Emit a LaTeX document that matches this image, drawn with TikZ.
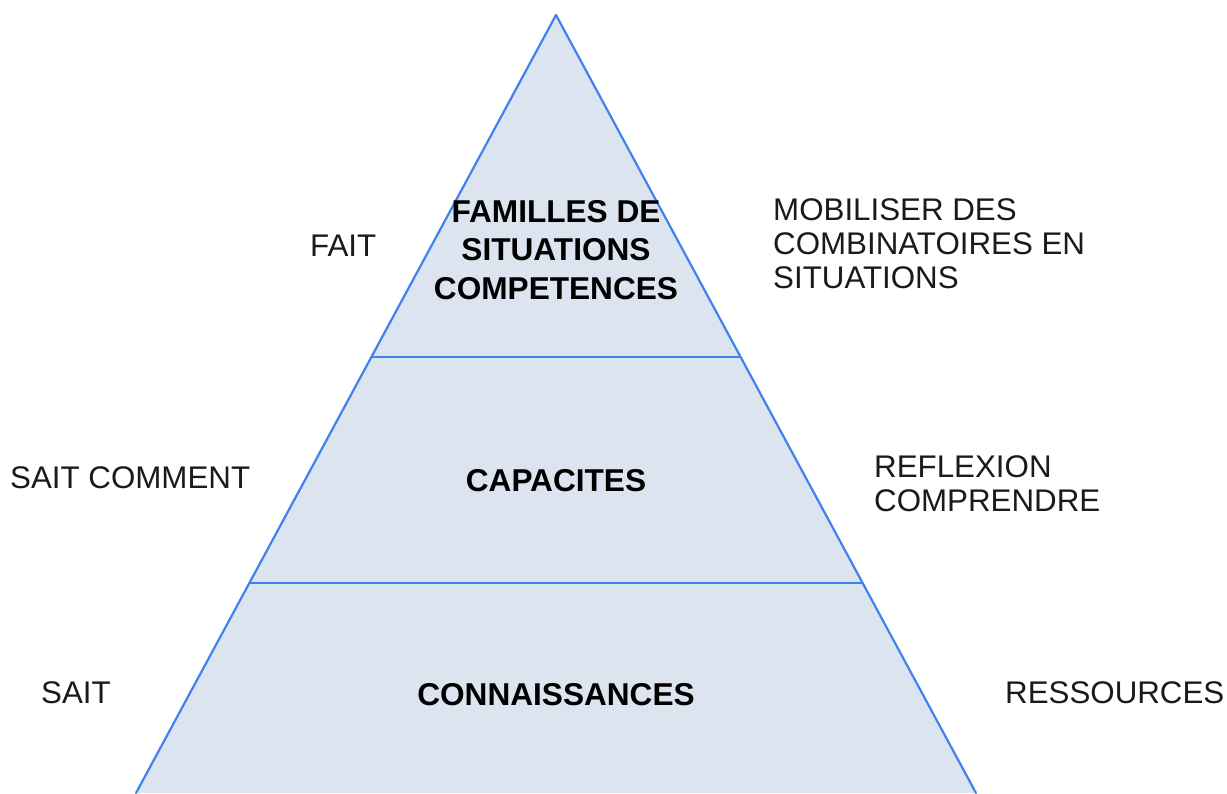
\documentclass[tikz,border=0pt]{standalone}
\usepackage{fontspec}
\setmainfont{Liberation Sans}
\definecolor{pyrfill}{HTML}{DCE4F0}
\definecolor{pyrline}{HTML}{3F82F0}
\definecolor{txt}{HTML}{1A1A1A}
\begin{document}
\begin{tikzpicture}[x=1pt,y=-1pt,
  edge/.style={draw=pyrline,line width=2.2pt,line cap=round,line join=round},
  side/.style={inner sep=0pt,text=txt,font=\fontsize{31.3}{34}\selectfont,align=left},
  level/.style={inner sep=0pt,text=black,font=\bfseries\fontsize{31.6}{38.5}\selectfont,align=center}]
\useasboundingbox (0,0) rectangle (1227,793);
\fill[white] (0,0) rectangle (1227,793);
% pyramid
\coordinate (apex) at (556,15);
\coordinate (bl) at (136,793);
\coordinate (br) at (976,793);
\fill[pyrfill] (apex) -- (bl) -- (br) -- cycle;
\draw[edge] (bl) -- (apex) -- (br);
\coordinate (l1) at (372.5,357);
\coordinate (r1) at (739.5,357);
\coordinate (l2) at (250.5,583);
\coordinate (r2) at (861.5,583);
\draw[edge] (l1) -- (r1);
\draw[edge] (l2) -- (r2);
% level labels
\node[level,anchor=north] (top) at (556,200) {FAMILLES DE\\SITUATIONS\\COMPETENCES};
\node[level,anchor=base] (mid) at (556,491) {CAPACITES};
\node[level,anchor=base] (bot) at (556,705) {CONNAISSANCES};
% left labels
\node[side,anchor=base west] (fait) at (310,256) {FAIT};
\node[side,anchor=base west] (saitc) at (10,488) {SAIT COMMENT};
\node[side,anchor=base west] (sait) at (41,703) {SAIT};
% right labels
\node[side,anchor=north west] (mob) at (773,198) {MOBILISER DES\\COMBINATOIRES EN\\SITUATIONS};
\node[side,anchor=north west] (refl) at (874,455) {REFLEXION\\COMPRENDRE};
\node[side,anchor=base west] (ress) at (1005,703) {RESSOURCES};
\end{tikzpicture}
\end{document}
